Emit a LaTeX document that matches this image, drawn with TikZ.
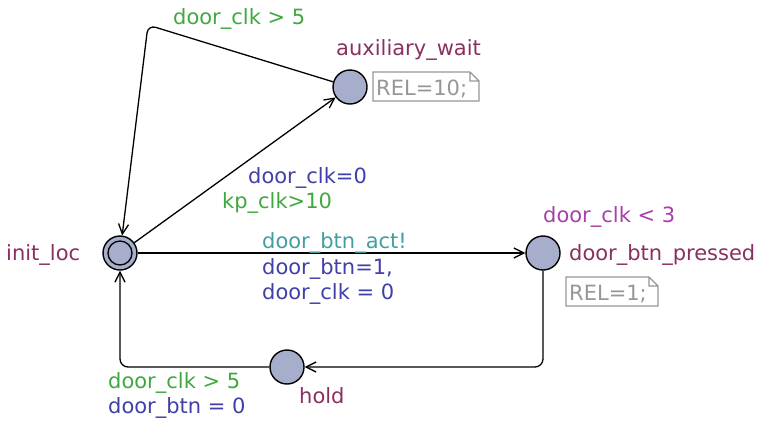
\documentclass[tikz,border=0pt]{standalone}
\usepackage{fontspec}
\setmainfont{DejaVu Sans}
\usetikzlibrary{arrows.meta}
\definecolor{locname}{RGB}{138,48,96}
\definecolor{guardc}{RGB}{64,168,64}
\definecolor{updc}{RGB}{64,64,168}
\definecolor{syncc}{RGB}{64,160,160}
\definecolor{invc}{RGB}{168,64,168}
\definecolor{locfill}{RGB}{166,174,204}
\definecolor{notec}{RGB}{150,150,150}
\tikzset{
  loc/.style={circle, draw=black, fill=locfill, line width=1.4pt, minimum size=34pt, inner sep=0pt},
  lbl/.style={font=\fontsize{21}{24}\selectfont, inner sep=0pt, anchor=west, yshift=-2pt},
  edge/.style={draw=black, line width=1.3pt, -{Straight Barb[length=10pt,width=10pt,line width=1.3pt]}},
  notebox/.style={draw=notec, line width=1.1pt},
}
\begin{document}
\begin{tikzpicture}[x=1pt, y=-1pt]
\useasboundingbox (0,0) rectangle (759,421);

% locations (init_loc has a second, inner ring)
\node[loc] (init) at (120,253) {};
\node[circle, draw=black, line width=1.3pt, minimum size=24pt, inner sep=0pt] (initin) at (120,253) {};
\node[loc] (aux) at (350,87) {};
\node[loc] (pressed) at (543,253) {};
\node[loc] (hold) at (287,367) {};

% location names and invariant
\node[lbl, text=locname] (nInit) at (6,253) {init\_loc};
\node[lbl, text=locname] (nAux) at (336,48) {auxiliary\_wait};
\node[lbl, text=locname] (nPressed) at (569,253) {door\_btn\_pressed};
\node[lbl, text=locname] (nHold) at (299,394) {hold};
\node[lbl, text=invc] (inv) at (543,215) {door\_clk < 3};

% notes with folded corner
\draw[notebox] (373,72) -- (470,72) -- (479,81) -- (479,101) -- (373,101) -- cycle
  (470,72) -- (470,81) -- (479,81);
\node[lbl, text=notec] (rel10) at (376,87) {REL=10;};
\draw[notebox] (566,277) -- (649,277) -- (658,286) -- (658,306) -- (566,306) -- cycle
  (649,277) -- (649,286) -- (658,286);
\node[lbl, text=notec] (rel1) at (569,292) {REL=1;};

% edges
\coordinate (c1) at (148,25);
\draw[edge, rounded corners=8pt] (aux) -- (c1) -- (init);
\draw[edge] (init) -- (aux);
\draw[edge] (init) -- (pressed);
\coordinate (c2) at (543,367);
\draw[edge, rounded corners=8pt] (pressed) -- (c2) -- (hold);
\coordinate (c3) at (120,367);
\draw[edge, rounded corners=8pt] (hold) -- (c3) -- (init);

% edge labels
\node[lbl, text=guardc] (g1) at (173,17) {door\_clk > 5};
\node[lbl, text=updc] (u1) at (248,176) {door\_clk=0};
\node[lbl, text=guardc] (g2) at (222,201) {kp\_clk>10};
\node[lbl, text=syncc] (s1) at (262,241) {door\_btn\_act!};
\node[lbl, text=updc] (u2) at (262,267) {door\_btn=1,};
\node[lbl, text=updc] (u3) at (262,292) {door\_clk = 0};
\node[lbl, text=guardc] (g3) at (108,381) {door\_clk > 5};
\node[lbl, text=updc] (u4) at (108,406) {door\_btn = 0};
\end{tikzpicture}
\end{document}
